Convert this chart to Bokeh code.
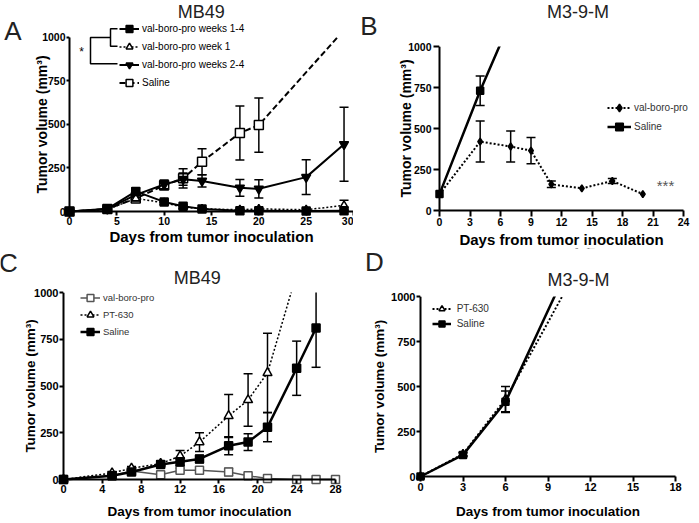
from bokeh.plotting import figure
from bokeh.models import Range1d, FixedTicker, Legend, LegendItem, Label, PolyAnnotation, BoxAnnotation
from bokeh.layouts import row, column
from bokeh.embed import file_html
from bokeh.resources import INLINE

FONT = "Liberation Sans"
Y_TICKS = [0, 250, 500, 750, 1000]
Y_MAX = 1000

# ---------------- Panel A : MB49 ----------------
a_days = [0, 4, 7, 10, 12, 14, 18, 20, 25, 29]
a_w14 = [0, 15, 115, 55, 30, 15, 5, 5, 3, 5]
a_w14_err = [0, 5, 20, 10, 10, 5, 3, 3, 2, 3]
a_w1 = [0, 12, 75, 50, 25, 15, 10, 15, 10, 35]
a_w1_err = [0, 5, 15, 10, 8, 5, 5, 5, 5, 30]
a_w24 = [0, 15, 95, 155, 185, 175, 136, 130, 197, 385]
a_w24_err = [0, 5, 15, 25, 35, 35, 48, 52, 100, 212]
a_sal_days = [0, 4, 7, 10, 12, 14, 18, 20, 29]
a_sal = [0, 15, 75, 150, 190, 285, 450, 495, 1040]
a_sal_err = [0, 5, 15, 25, 55, 75, 155, 155, 0]
a_xticks = [0, 5, 10, 15, 20, 25, 30]

# ---------------- Panel B : M3-9-M ----------------
b_vbp_days = [0, 4, 7, 9, 11, 14, 17, 20]
b_vbp = [100, 420, 390, 365, 160, 135, 180, 100]
b_vbp_err = [0, 125, 95, 80, 20, 0, 15, 0]
b_sal_days = [0, 4, 7]
b_sal = [100, 730, 1160]
b_sal_err = [0, 90, 0]
b_xticks = [0, 3, 6, 9, 12, 15, 18, 21, 24]

# ---------------- Panel C : MB49 ----------------
c_vbp_days = [0, 5, 7, 10, 12, 14, 17, 19, 21, 24, 26, 28]
c_vbp = [0, 20, 45, 25, 50, 50, 40, 20, 5, 0, 0, 0]
c_vbp_err = [0, 5, 8, 10, 10, 10, 20, 8, 5, 2, 2, 2]
c_pt_days = [0, 5, 7, 10, 12, 14, 17, 19, 21, 24]
c_pt = [0, 35, 60, 85, 125, 200, 340, 425, 570, 1100]
c_pt_err = [0, 8, 10, 15, 30, 50, 115, 140, 212, 0]
c_sal_days = [0, 5, 7, 10, 12, 14, 17, 19, 21, 24, 26]
c_sal = [0, 20, 40, 80, 95, 110, 180, 200, 280, 595, 810]
c_sal_err = [0, 5, 10, 15, 20, 20, 48, 45, 78, 145, 210]
c_xticks = [0, 4, 8, 12, 16, 20, 24, 28]

# ---------------- Panel D : M3-9-M ----------------
d_days = [0, 3, 6, 12]
d_pt = [0, 125, 430, 1285]
d_pt_err = [0, 10, 70, 0]
d_sal = [0, 120, 415, 1430]
d_sal_err = [0, 10, 60, 0]
d_xticks = [0, 3, 6, 9, 12, 15, 18]


def make_fig(W, H, ox, xend_px, xmax, oy, ytop_px, xticks, xcfg, ycfg):
    """Frame fills the whole canvas; axes are pinned at the data origin."""
    sx = (xend_px - ox) / xmax
    sy = (oy - ytop_px) / Y_MAX
    p = figure(width=W, height=H, min_border=0,
               x_range=Range1d(-ox / sx, (W - ox) / sx),
               y_range=Range1d(-(H - oy) / sy, oy / sy),
               output_backend="svg", toolbar_location=None)
    p.title.visible = False
    p.outline_line_color = None
    p.xgrid.visible = False
    p.ygrid.visible = False
    p.background_fill_color = "white"
    p.border_fill_color = "white"
    p.xaxis.ticker = FixedTicker(ticks=xticks)
    p.yaxis.ticker = FixedTicker(ticks=Y_TICKS)
    p.xaxis.bounds = (0, xmax)
    p.yaxis.bounds = (0, Y_MAX)
    p.xaxis.fixed_location = 0
    p.yaxis.fixed_location = 0
    for ax, cfg in ((p.xaxis[0], xcfg), (p.yaxis[0], ycfg)):
        ax.axis_line_width = 2
        ax.axis_line_color = "black"
        ax.major_tick_line_width = 2
        ax.major_tick_line_color = "black"
        ax.major_tick_out = cfg["tick"]
        ax.major_tick_in = 0
        ax.minor_tick_line_color = None
        ax.major_label_text_font = FONT
        ax.major_label_text_font_style = "bold"
        ax.major_label_text_font_size = cfg["tfs"]
        ax.major_label_text_color = "black"
        ax.major_label_standoff = cfg["tso"]
        ax.axis_label_text_font = FONT
        ax.axis_label_text_font_style = "bold"
        ax.axis_label_text_font_size = cfg["lfs"]
        ax.axis_label_text_color = "black"
        ax.axis_label_standoff = cfg["lso"]
    p.xaxis.axis_label = "Days from tumor inoculation"
    p.yaxis.axis_label = "Tumor volume (mm³)"
    # white mask emulating clipping of the plot area at the top of the y axis
    p.add_layout(BoxAnnotation(bottom=Y_MAX, left=0, fill_color="white", fill_alpha=1,
                               line_alpha=0, level="guide"))
    return p


def errbars(p, xs, ys, es, color="black", width=1.5, cap=9):
    x = [a for a, e in zip(xs, es) if e > 0]
    lo = [b - e for b, e in zip(ys, es) if e > 0]
    hi = [b + e for b, e in zip(ys, es) if e > 0]
    p.segment(x0=x, y0=lo, x1=x, y1=hi, line_color=color, line_width=width)
    p.scatter(x=x + x, y=lo + hi, marker="dash", size=cap, line_color=color, line_width=width)


def series(p, x, y, err, dash, lw, marker, msize, fill, color="black", cap=9):
    rl = p.line(x, y, line_color=color, line_width=lw, line_dash=dash)
    errbars(p, x, y, err, color, cap=cap)
    rm = p.scatter(x, y, marker=marker, size=msize, line_color=color, fill_color=fill, line_width=1.5)
    return [rl, rm]


def add_legend(p, items, loc, gh, gw=20, standoff=3, fs="10px", color="black", spacing=0):
    lg = Legend(items=[LegendItem(label=l, renderers=r) for l, r in items],
                location=loc, glyph_height=gh, glyph_width=gw, label_height=gh,
                spacing=spacing, padding=0, margin=0, label_standoff=standoff,
                label_text_font=FONT, label_text_font_size=fs, label_text_color=color,
                background_fill_alpha=0, border_line_alpha=0)
    p.add_layout(lg)


def text(p, x, y, s, size, style="normal", color="black", align="center"):
    p.add_layout(Label(x=x, y=y, x_units="screen", y_units="screen", text=s,
                       text_font=FONT, text_font_size=size, text_font_style=style,
                       text_color=color, text_align=align, text_baseline="middle"))


def bracket(p, xs, ys):
    # open path drawn as a polygon that retraces itself
    px = xs + xs[-2:0:-1]
    py = ys + ys[-2:0:-1]
    p.add_layout(PolyAnnotation(xs=px, ys=py, xs_units="screen", ys_units="screen",
                                fill_color=None, fill_alpha=0, line_color="black",
                                line_alpha=1, line_width=1.5))


# ---------- A ----------
HA = 248
pA = make_fig(353, HA, 69, 353, 30, 211, 36.5, a_xticks,
              dict(tick=4, tfs="10.5px", tso=1, lfs="15px", lso=0),
              dict(tick=3, tfs="10.5px", tso=1, lfs="14px", lso=-11))
rA_sal = series(pA, a_sal_days, a_sal, a_sal_err, "6 3", 2, "square", 9, "white")
rA_w24 = series(pA, a_days, a_w24, a_w24_err, "solid", 2, "inverted_triangle", 9, "black")
rA_w1 = series(pA, a_days, a_w1, a_w1_err, "2 2", 1.5, "triangle", 8, "white")
rA_w14 = series(pA, a_days, a_w14, a_w14_err, "solid", 2, "square", 8, "black")
add_legend(pA, [("val-boro-pro weeks 1-4", rA_w14), ("val-boro-pro week 1", rA_w1),
                ("val-boro-pro weeks 2-4", rA_w24), ("Saline", rA_sal)],
           (119, HA - 90.8), 17, gw=20, standoff=3, spacing=1)
bracket(pA, [117, 110, 110, 117], [HA - 28.3, HA - 28.3, HA - 45.7, HA - 45.7])
bracket(pA, [110, 90, 90, 117], [HA - 37, HA - 37, HA - 63.3, HA - 63.3])
text(pA, 81, HA - 51.7, "*", "12px")
text(pA, 200.8, HA - 11.7, "MB49", "18px", color="#222")
text(pA, 12.5, HA - 30, "A", "26px", color="#222")

# ---------- B ----------
pB = make_fig(346, HA, 86, 330, 24, 210, 46, b_xticks,
              dict(tick=6, tfs="10.5px", tso=1, lfs="15px", lso=2),
              dict(tick=6, tfs="10.5px", tso=2, lfs="14px", lso=-9))
rB_vbp = series(pB, b_vbp_days, b_vbp, b_vbp_err, "2 2", 2, "diamond", 7, "black")
rB_sal = series(pB, b_sal_days, b_sal, b_sal_err, "solid", 2.5, "square", 7, "black")
add_legend(pB, [("val-boro-pro", rB_vbp), ("Saline", rB_sal)], (254, HA - 135.8), 19, gw=24,
           standoff=3, color="#333")
text(pB, 312, HA - 185, "***", "15px", color="#555")
text(pB, 224.5, HA - 11.7, "M3-9-M", "18px", color="#222")
text(pB, 15.5, HA - 25, "B", "26px", color="#222")

# ---------- C ----------
HC = 275
pC = make_fig(353, HC, 63, 335, 28, 231, 44, c_xticks,
              dict(tick=4, tfs="11px", tso=1, lfs="13.5px", lso=8),
              dict(tick=4, tfs="11px", tso=1, lfs="13.5px", lso=-7))
rC_vbp = series(pC, c_vbp_days, c_vbp, c_vbp_err, "solid", 1.5, "square", 8, "white", color="#555")
rC_pt = series(pC, c_pt_days, c_pt, c_pt_err, "2 2", 1.5, "triangle", 9, "white")
rC_sal = series(pC, c_sal_days, c_sal, c_sal_err, "solid", 2.5, "square", 8, "black")
add_legend(pC, [("val-boro-pro", rC_vbp), ("PT-630", rC_pt), ("Saline", rC_sal)],
           (80, HC - 92.2), 17, gw=20, standoff=3, fs="9.5px", color="#333")
text(pC, 196.7, HC - 29.5, "MB49", "18px", color="#222")
text(pC, 8, HC - 14, "C", "26px", color="#222")

# ---------- D ----------
pD = make_fig(346, HC, 67, 322, 18, 228, 48, d_xticks,
              dict(tick=5, tfs="11px", tso=1, lfs="13.5px", lso=10),
              dict(tick=4, tfs="11px", tso=1, lfs="13.5px", lso=1))
rD_pt = series(pD, d_days, d_pt, d_pt_err, "2 2", 2, "triangle", 8, "white")
rD_sal = series(pD, d_days, d_sal, d_sal_err, "solid", 2.5, "square", 7, "black")
add_legend(pD, [("PT-630", rD_pt), ("Saline", rD_sal)], (78.7, HC - 82.8), 15, gw=19,
           standoff=6, color="#333")
text(pD, 225, HC - 31, "M3-9-M", "18px", color="#222")
text(pD, 21, HC - 13, "D", "26px", color="#222")

layout = column(row(pA, pB), row(pC, pD))
open("out.html", "w").write(file_html(layout, INLINE))
